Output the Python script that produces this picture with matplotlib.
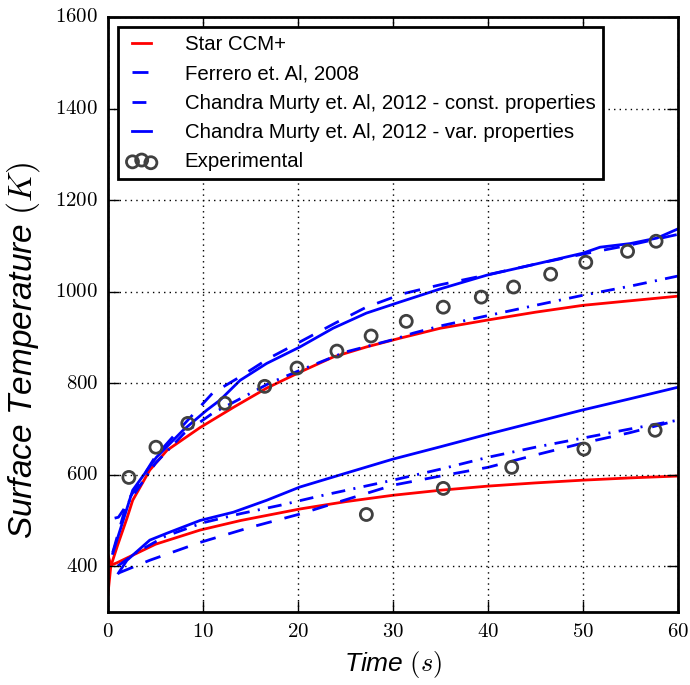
import matplotlib
matplotlib.use('Agg')
import matplotlib.pyplot as plt
from matplotlib.ticker import FuncFormatter

plt.style.use('classic')
plt.rcParams['font.family'] = ['Liberation Sans', 'DejaVu Sans']
plt.rcParams['mathtext.fontset'] = 'cm'
plt.rcParams['figure.facecolor'] = 'white'

# Star CCM+ (upper / lower)
t_star_up = [0, 0.3, 1, 2, 2.6, 4.4, 6.2, 9.7, 13.2, 16.7, 20.2, 23.7, 27.2, 30.7, 35, 40, 45, 50, 55, 60]
T_star_up = [340, 400, 445, 505, 544, 610, 653, 703, 747, 789, 824, 857, 879, 898, 920, 938, 955, 970, 980, 990]
t_star_lo = [0, 0.3, 1, 2.6, 5, 9.7, 14, 20.2, 25, 30, 35, 40, 45, 50, 55, 60]
T_star_lo = [425, 402, 408, 424, 448, 479, 500, 525, 541, 555, 566, 575, 582, 588, 593, 597]

# Ferrero et. Al, 2008
t_fer_up = [0.5, 2, 5, 8, 11, 14, 17, 20.2, 24, 27.2, 31, 35, 40, 45, 50, 55, 60]
T_fer_up = [430, 540, 640, 710, 778, 815, 855, 890, 932, 966, 995, 1015, 1037, 1060, 1082, 1102, 1125]
t_fer_lo = [1.1, 4.4, 9.7, 15, 20.2, 25, 30, 35, 40, 45, 50, 55, 60]
T_fer_lo = [385, 413, 452, 485, 514, 545, 577, 597, 616, 643, 669, 692, 719]

# Chandra Murty et. Al, 2012 - const. properties
t_cc_up = [0.7, 1.1, 2.3, 5, 8, 11, 14.2, 17, 20.2, 25, 30, 32.1, 35, 39.2, 45, 50, 55, 60]
T_cc_up = [505, 507, 544, 625, 690, 734, 769, 800, 828, 868, 895, 909, 925, 944, 970, 992, 1012, 1034]
t_cc_lo = [1.0, 3, 6, 10, 14, 18.1, 22, 26, 30, 35, 40, 45, 50, 55, 60]
T_cc_lo = [400, 430, 465, 495, 515, 533, 552, 570, 588, 612, 638, 660, 680, 700, 719]

# Chandra Murty et. Al, 2012 - var. properties
t_cv_up = [0.5, 2.6, 5.1, 7.9, 10.4, 11.8, 13.9, 16.7, 20.2, 23.7, 27.2, 30.7, 35, 39.9, 45, 50, 51.8, 55, 57.8, 60]
T_cv_up = [428, 566, 638, 697, 741, 763, 806, 843, 879, 920, 953, 977, 1006, 1036, 1060, 1084, 1097, 1105, 1117, 1137]
t_cv_lo = [1.1, 2, 4.4, 6.2, 9.7, 13.2, 16.7, 20.2, 25, 30, 35, 39.9, 45, 49.9, 55, 60]
T_cv_lo = [385, 413, 457, 472, 500, 518, 544, 573, 603, 634, 661, 688, 715, 741, 766, 791]

# Experimental
t_exp = [2.2, 5.05, 8.4, 12.3, 16.5, 19.9, 24.1, 27.7, 31.4, 35.3, 39.3, 42.7, 46.6, 50.3, 54.7, 57.7,
         27.2, 35.3, 42.5, 50.1, 57.6]
T_exp = [594, 660, 712, 756, 793, 833, 870, 903, 935, 966, 988, 1010, 1038, 1064, 1088, 1110,
         513, 570, 616, 656, 697]

dash = (11.5, 9.5)
dashdot = (10, 6, 1.5, 6)

fig = plt.figure(figsize=(6.9, 6.85), dpi=100)
ax = fig.add_axes([0.1565, 0.1066, 0.826, 0.8686])

ax.plot(t_star_up, T_star_up, 'r-', lw=2, label='Star CCM+')
ax.plot(t_star_lo, T_star_lo, 'r-', lw=2)
ax.plot(t_fer_up, T_fer_up, 'b', lw=2, dashes=dash, label='Ferrero et. Al, 2008')
ax.plot(t_fer_lo, T_fer_lo, 'b', lw=2, dashes=dash)
ax.plot(t_cc_up, T_cc_up, 'b', lw=2, dashes=dashdot, label='Chandra Murty et. Al, 2012 - const. properties')
ax.plot(t_cc_lo, T_cc_lo, 'b', lw=2, dashes=dashdot)
ax.plot(t_cv_up, T_cv_up, 'b-', lw=2, label='Chandra Murty et. Al, 2012 - var. properties')
ax.plot(t_cv_lo, T_cv_lo, 'b-', lw=2)
ax.scatter(t_exp, T_exp, s=75, facecolors='none', edgecolors='#404040', linewidths=2,
           label='Experimental', zorder=5)

ax.set_xlim(0, 60)
ax.set_ylim(300, 1600)
ax.set_xticks(range(0, 61, 10))
ax.set_yticks(range(400, 1601, 200))
fmt = FuncFormatter(lambda v, p: r'$%d$' % v)
ax.xaxis.set_major_formatter(fmt)
ax.yaxis.set_major_formatter(fmt)
ax.tick_params(labelsize=15, width=1, length=8, pad=7)
ax.grid(True, color='black', linestyle=':', lw=1)
for s in ax.spines.values():
    s.set_linewidth(2)

ax.set_xlabel(r'Time $(s)$', fontsize=19, style='italic', labelpad=6)
ax.set_ylabel(r'Surface Temperature $(K)$', fontsize=24, style='italic')
ax.yaxis.set_label_coords(-0.115, 0.44)

leg = ax.legend(loc='upper left', fontsize=14.7, scatterpoints=3, borderaxespad=0.5,
                handlelength=1.5, handletextpad=1.35, labelspacing=0.5)
leg.get_frame().set_linewidth(2)

fig.savefig('out.png', dpi=100)
